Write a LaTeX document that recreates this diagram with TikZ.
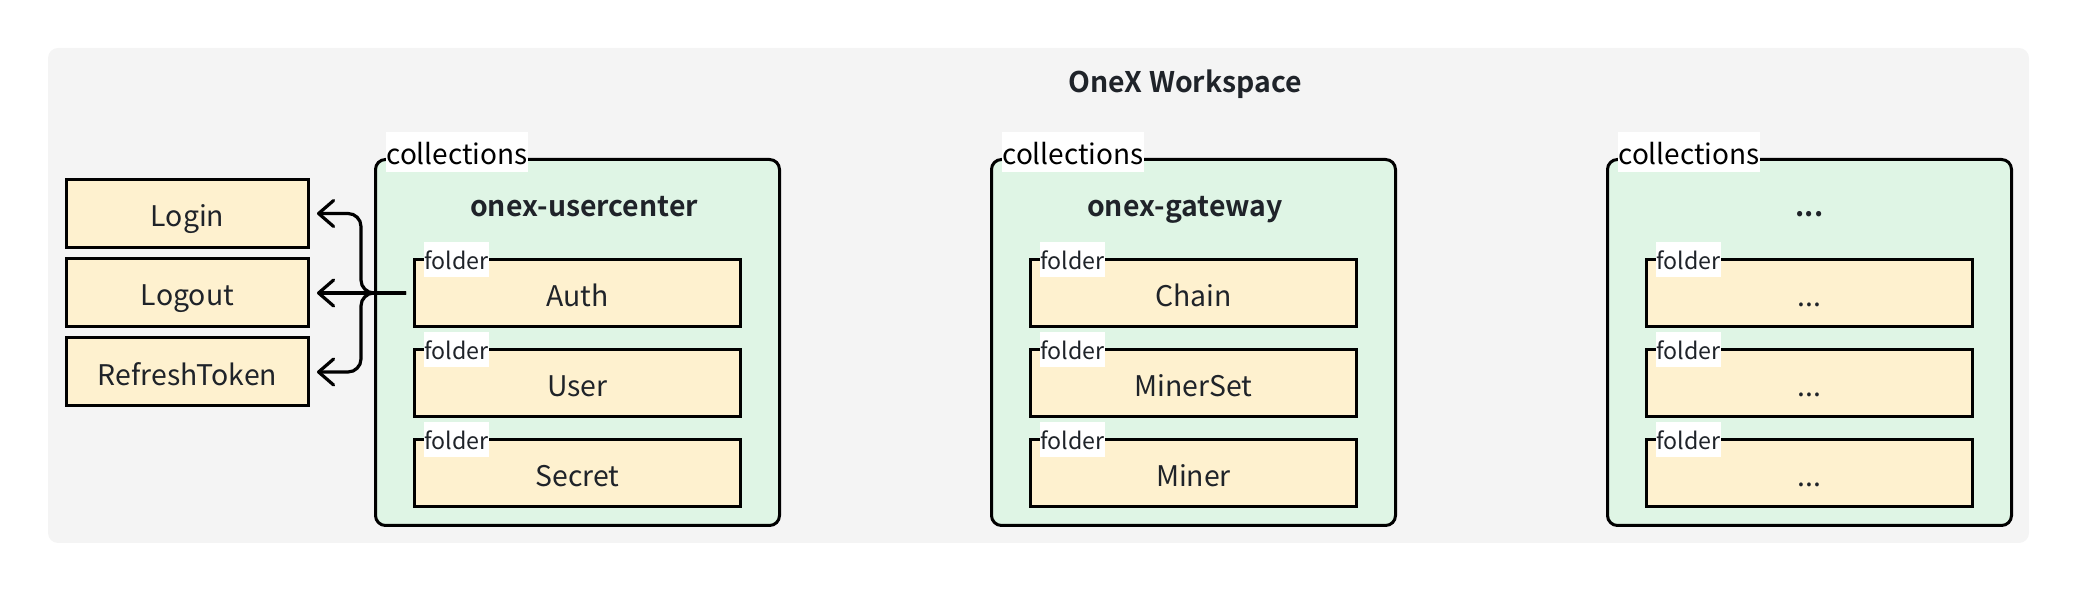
\documentclass[tikz,border=0pt]{standalone}
\usepackage{fontspec}
\setmainfont{Noto Sans CJK SC}[BoldFont={Noto Sans CJK SC Bold}]
\usetikzlibrary{arrows.meta}
\definecolor{wsgray}{HTML}{F4F4F4}
\definecolor{collgreen}{HTML}{DFF5E5}
\definecolor{foldyellow}{HTML}{FEF1CF}
\definecolor{txt}{HTML}{1F2329}
\tikzset{
  ws/.style={fill=wsgray, draw=none, rounded corners=5pt, minimum width=990.5pt, minimum height=247.5pt, inner sep=0pt},
  coll/.style={draw=black, line width=1.5pt, fill=collgreen, rounded corners=5pt, minimum width=202pt, minimum height=183pt, inner sep=0pt},
  mainfont/.style={font=\fontsize{14.2}{17}\selectfont, text=txt, text height=15pt, text depth=1.5pt},
  fold/.style={draw=black, line width=1.5pt, fill=foldyellow, minimum width=163pt, minimum height=33.5pt, inner sep=0pt, mainfont},
  side/.style={draw=black, line width=1.5pt, fill=foldyellow, minimum width=121pt, minimum height=34pt, inner sep=0pt, mainfont},
  ctitle/.style={font=\bfseries\fontsize{14.2}{17}\selectfont, text=txt, anchor=base, inner sep=0pt},
  flbl/.style={fill=white, inner xsep=0pt, inner ysep=0pt, anchor=north west, text height=13.5pt, text depth=4pt, font=\fontsize{11.6}{14}\selectfont, text=txt},
  clbl/.style={fill=white, inner xsep=0pt, inner ysep=0pt, anchor=north west, text height=16pt, text depth=4pt, font=\fontsize{14}{17}\selectfont, text=black},
  conn/.style={draw=black, line width=1.6pt, rounded corners=6.5pt, -{Straight Barb[length=7.5pt,width=13pt,line cap=round,line join=round]}}
}
\begin{document}
\begin{tikzpicture}[x=0.5pt,y=-0.5pt]
\useasboundingbox (0,0) rectangle (2078,592);
% workspace
\node[ws] (ws) at (1038.5,295.5) {};
\node[ctitle] (wstitle) at (1185,93) {OneX Workspace};
% left boxes
\node[side] (login) at (187.5,213.5) {Login};
\node[side] (logout) at (187.5,292.5) {Logout};
\node[side] (refresh) at (187.5,372) {RefreshToken};
% collection 1
\node[coll] (c1) at (577.5,342.5) {};
\node[clbl] (c1l) at ([xshift=6pt,yshift=13pt]c1.north west) {collections};
\node[ctitle] (c1t) at (584,217) {onex-usercenter};
\node[fold] (auth) at (577.5,293) {Auth};
\node[fold] (user) at (577.5,383) {User};
\node[fold] (secret) at (577.5,473) {Secret};
\node[flbl] (authl) at ([xshift=5.5pt,yshift=8pt]auth.north west) {folder};
\node[flbl] (userl) at ([xshift=5.5pt,yshift=8pt]user.north west) {folder};
\node[flbl] (secretl) at ([xshift=5.5pt,yshift=8pt]secret.north west) {folder};
% collection 2
\node[coll] (c2) at (1193.5,342.5) {};
\node[clbl] (c2l) at ([xshift=6pt,yshift=13pt]c2.north west) {collections};
\node[ctitle] (c2t) at (1185,217) {onex-gateway};
\node[fold] (chain) at (1193.5,293) {Chain};
\node[fold] (minerset) at (1193.5,383) {MinerSet};
\node[fold] (miner) at (1193.5,473) {Miner};
\node[flbl] (chainl) at ([xshift=5.5pt,yshift=8pt]chain.north west) {folder};
\node[flbl] (minersetl) at ([xshift=5.5pt,yshift=8pt]minerset.north west) {folder};
\node[flbl] (minerl) at ([xshift=5.5pt,yshift=8pt]miner.north west) {folder};
% collection 3
\node[coll] (c3) at (1809.5,342.5) {};
\node[clbl] (c3l) at ([xshift=6pt,yshift=13pt]c3.north west) {collections};
\node[ctitle] (c3t) at (1809.5,217) {...};
\node[fold] (f31) at (1809.5,293) {...};
\node[fold] (f32) at (1809.5,383) {...};
\node[fold] (f33) at (1809.5,473) {...};
\node[flbl] (f31l) at ([xshift=5.5pt,yshift=8pt]f31.north west) {folder};
\node[flbl] (f32l) at ([xshift=5.5pt,yshift=8pt]f32.north west) {folder};
\node[flbl] (f33l) at ([xshift=5.5pt,yshift=8pt]f33.north west) {folder};
% connectors
\coordinate (src) at ([xshift=-3.5pt]auth.west);
\draw[conn] (src) -- ([xshift=3.5pt]logout.east |- src);
\draw[conn] (src) -- ++(-22.5pt,0) |- ([xshift=3.5pt]login.east);
\draw[conn] (src) -- ++(-22.5pt,0) |- ([xshift=3.5pt]refresh.east);
\end{tikzpicture}
\end{document}
